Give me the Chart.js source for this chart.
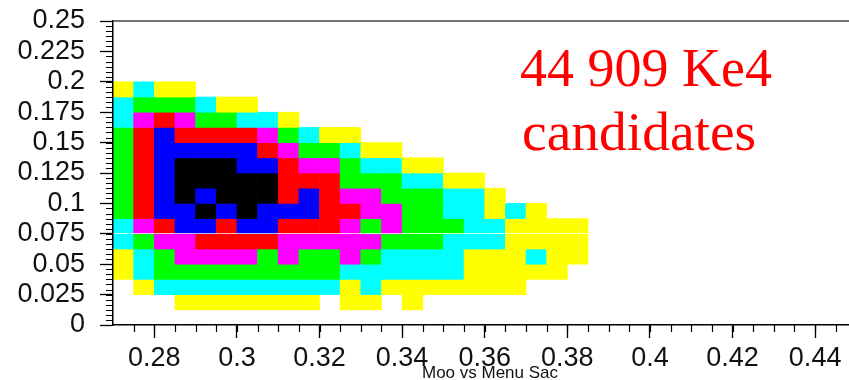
<!DOCTYPE html>
<html>
<head>
<meta charset="utf-8">
<title>Moo vs Menu Sac</title>
<script src="https://cdn.jsdelivr.net/npm/chart.js@4.4.1/dist/chart.umd.min.js"></script>
<style>
  html, body { margin: 0; padding: 0; background: #fff; }
  #wrap { width: 849px; height: 380px; position: relative; }
</style>
</head>
<body>
<div id="wrap"><canvas id="chart"></canvas></div>
<script>
/* ======================
   DATA
====================== */
// lower edge of every column (bin width 0.005)
const xEdges = [0.27, 0.275, 0.28, 0.285, 0.29, 0.295, 0.3, 0.305, 0.31, 0.315, 0.32, 0.325,
                0.33, 0.335, 0.34, 0.345, 0.35, 0.355, 0.36, 0.365, 0.37, 0.375, 0.38];
// lower edge of every row, top row first (bin height 0.0125)
const yEdges = [0.1875, 0.175, 0.1625, 0.15, 0.1375, 0.125, 0.1125, 0.1, 0.0875,
                0.075, 0.0625, 0.05, 0.0375, 0.025, 0.0125];
const binW = 0.005;
const binH = 0.0125;

// colour level of each cell (0 = empty), one row per yEdges entry
const levels = [
  [1,2,1,1,0,0,0,0,0,0,0,0,0,0,0,0,0,0,0,0,0,0,0],
  [2,3,3,3,2,1,1,0,0,0,0,0,0,0,0,0,0,0,0,0,0,0,0],
  [2,4,5,4,3,3,2,2,1,0,0,0,0,0,0,0,0,0,0,0,0,0,0],
  [3,5,6,5,5,5,5,4,3,2,1,1,0,0,0,0,0,0,0,0,0,0,0],
  [3,5,6,6,6,6,6,5,4,3,3,2,1,1,0,0,0,0,0,0,0,0,0],
  [3,5,6,7,7,7,6,6,5,4,4,3,2,2,1,1,0,0,0,0,0,0,0],
  [3,5,6,7,7,7,7,7,5,5,5,3,3,3,2,2,1,1,0,0,0,0,0],
  [3,5,6,7,6,7,7,7,5,6,5,4,4,3,3,3,2,2,1,0,0,0,0],
  [3,5,6,6,7,6,7,6,6,6,5,5,4,4,3,3,2,2,1,2,1,0,0],
  [2,4,5,6,6,5,6,6,5,5,5,4,3,4,3,3,3,2,2,1,1,1,1],
  [2,3,4,4,5,5,5,5,4,4,4,4,4,3,3,3,2,2,2,1,1,1,1],
  [1,2,3,4,4,4,4,3,4,3,3,4,3,2,2,2,2,1,1,1,2,1,1],
  [1,2,3,3,3,3,3,3,3,3,3,2,2,2,2,2,2,1,1,1,1,1,0],
  [0,1,2,2,2,2,2,2,2,2,2,1,2,1,1,1,1,1,1,1,0,0,0],
  [0,0,0,1,1,1,1,1,1,1,0,1,1,0,1,0,0,0,0,0,0,0,0]
];
const palette = ["#ffffff", "#ffff00", "#00ffff", "#00ff00", "#ff00ff", "#ff0000", "#0000ff", "#000000"];

// axis ticks
const xTicks = [0.28, 0.3, 0.32, 0.34, 0.36, 0.38, 0.4, 0.42, 0.44];
const xTickLabels = ["0.28", "0.3", "0.32", "0.34", "0.36", "0.38", "0.4", "0.42", "0.44"];
const yTicks = [0, 0.025, 0.05, 0.075, 0.1, 0.125, 0.15, 0.175, 0.2, 0.225, 0.25];
const yTickLabels = ["0", "0.025", "0.05", "0.075", "0.1", "0.125", "0.15", "0.175", "0.2", "0.225", "0.25"];
const xMinorStep = 0.005;
const yMinorStep = 0.025 / 6;

const axisTitle = "Moo vs Menu Sac";
const noteLines = ["44 909 Ke4", "candidates"];

/* ======================
   DATASETS (one per row)
====================== */
const datasets = yEdges.map((y0, i) => {
  const pts = [];
  const cols = [];
  levels[i].forEach((lv, j) => {
    if (!lv) return;
    pts.push({ x: xEdges[j] + binW / 2, y: [y0, y0 + binH] });
    cols.push(palette[lv]);
  });
  return {
    data: pts,
    backgroundColor: cols,
    borderWidth: 0,
    grouped: false,
    barPercentage: 1,
    categoryPercentage: 1,
  };
});

/* ======================
   EXTRA DRAWING
====================== */
const extras = {
  id: "extras",
  afterDraw(chart) {
    const { ctx, chartArea: a, scales } = chart;
    const x = scales.x;
    const y = scales.y;
    ctx.save();

    // minor ticks
    ctx.strokeStyle = "#000";
    ctx.lineWidth = 1.2;
    ctx.beginPath();
    for (let k = 1; xEdges[0] + k * xMinorStep < x.max; k++) {
      const px = Math.round(x.getPixelForValue(xEdges[0] + k * xMinorStep)) + 0.5;
      ctx.moveTo(px, a.bottom);
      ctx.lineTo(px, a.bottom + 7);
    }
    for (let k = 1; k * yMinorStep < y.max; k++) {
      const py = Math.round(y.getPixelForValue(k * yMinorStep)) + 0.5;
      ctx.moveTo(a.left, py);
      ctx.lineTo(a.left - 7, py);
    }
    ctx.stroke();

    // top frame
    ctx.strokeStyle = "#444";
    ctx.lineWidth = 1.5;
    ctx.beginPath();
    ctx.moveTo(a.left, a.top);
    ctx.lineTo(a.right, a.top);
    ctx.stroke();

    // axis title
    ctx.fillStyle = "#111";
    ctx.font = '17px "Liberation Sans", Arial, sans-serif';
    ctx.textAlign = "center";
    ctx.textBaseline = "alphabetic";
    ctx.fillText(axisTitle, 490, 378);

    // note
    ctx.fillStyle = "#ff0000";
    ctx.textAlign = "left";
    ctx.font = '54px "Liberation Serif", "Times New Roman", serif';
    ctx.fillText(noteLines[0], 520, 86);
    ctx.font = '55.5px "Liberation Serif", "Times New Roman", serif';
    ctx.fillText(noteLines[1], 522, 150);
    ctx.restore();
  },
};

/* ======================
   CHART
====================== */
Chart.defaults.font.family = '"Liberation Sans", Arial, sans-serif';
Chart.defaults.color = "#111";

new Chart(document.getElementById("chart"), {
  type: "bar",
  data: { datasets: datasets },
  options: {
    responsive: true,
    maintainAspectRatio: false,
    animation: false,
    layout: { padding: { top: 21, right: 0, left: 0, bottom: 0 } },
    plugins: {
      legend: { display: false },
      tooltip: { enabled: false },
    },
    scales: {
      x: {
        type: "linear",
        offset: false,
        min: 0.27,
        max: 0.4482,
        afterBuildTicks: (s) => { s.ticks = xTicks.map((v) => ({ value: v })); },
        afterFit: (s) => {
          s.height = 55;
          s.paddingLeft = 0;
          s.paddingRight = 0;
        },
        ticks: {
          callback: (v, i) => xTickLabels[i],
          font: { size: 27 },
          color: "#111",
          padding: 4,
          maxRotation: 0,
          autoSkip: false,
        },
        grid: {
          offset: false,
          drawOnChartArea: false,
          tickLength: 13,
          tickColor: "#000",
          tickWidth: 1.3,
        },
        border: { color: "#000", width: 1.5 },
      },
      y: {
        type: "linear",
        min: 0,
        max: 0.25,
        afterBuildTicks: (s) => { s.ticks = yTicks.map((v) => ({ value: v })); },
        afterFit: (s) => {
          s.width = 113;
          s.paddingTop = 0;
          s.paddingBottom = 0;
        },
        ticks: {
          callback: (v, i) => yTickLabels[i],
          font: { size: 27 },
          color: "#111",
          padding: 15,
          autoSkip: false,
        },
        grid: {
          z: 1,
          color: (c) => (c.tick && c.tick.value === 0.075 ? "rgba(255,255,255,0.75)" : "rgba(0,0,0,0)"),
          lineWidth: 1,
          tickLength: 13,
          tickColor: "#000",
          tickWidth: 1.3,
        },
        border: { color: "#000", width: 1.5, z: 1 },
      },
    },
  },
  plugins: [extras],
});
</script>
</body>
</html>
